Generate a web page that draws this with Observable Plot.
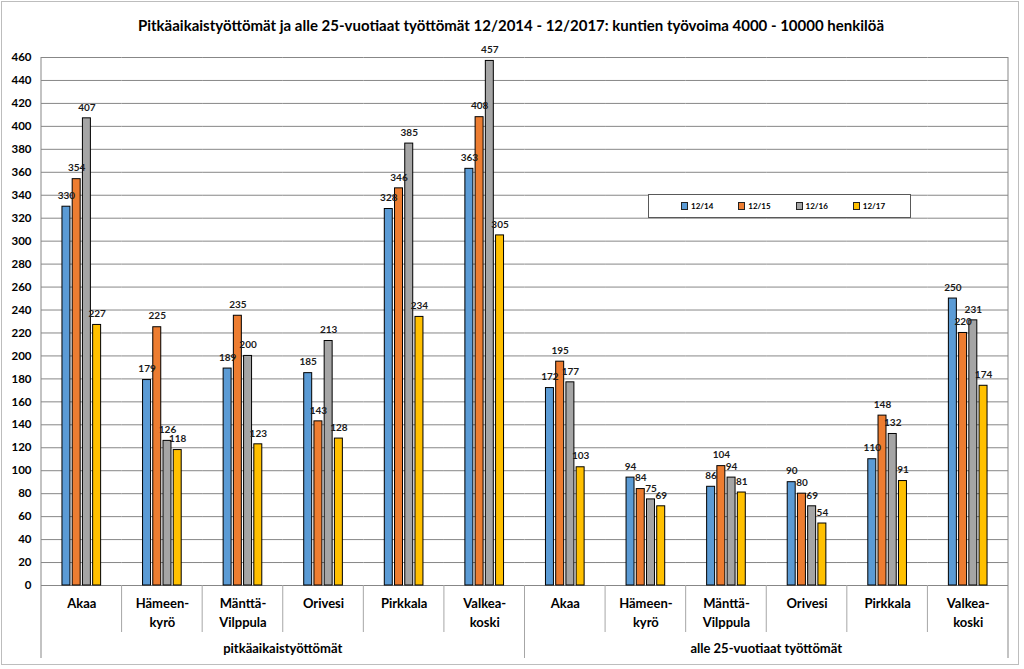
<!DOCTYPE html>
<html>
<head>
<meta charset="utf-8">
<script src="https://cdn.jsdelivr.net/npm/d3@7"></script>
<script src="https://cdn.jsdelivr.net/npm/@observablehq/plot@0.6"></script>
<style>
  html, body { margin: 0; padding: 0; background: #fff; }
  #wrap { position: relative; width: 1024px; height: 669px; overflow: hidden; font-family: Lato, "Open Sans", sans-serif; }
  #border { position: absolute; left: 1px; top: 1px; width: 1018px; height: 664px; border: 1.5px solid #bdbdbd; box-sizing: border-box; }
  #title { position: absolute; left: 0; width: 1022px; top: 16px; text-align: center; font-weight: bold; font-size: 15px; color: #000; }
  #chart { position: absolute; left: 0; top: 0; }
  #legend { position: absolute; left: 648px; top: 194px; width: 263px; height: 24px; box-sizing: border-box; border: 1.5px solid #595959; background: #fff; display: flex; align-items: center; padding-left: 32px; }
  .li { width: 59px; display: flex; align-items: center; font-size: 8px; font-weight: bold; color: #000; }
  .sw { width: 5px; height: 6px; border: 1px solid #222; margin-right: 3px; }
</style>
</head>
<body>
<div id="wrap">
  <div id="border"></div>
  <div id="chart"></div>
  <div id="title">Pitkäaikaistyöttömät ja alle 25-vuotiaat työttömät 12/2014 - 12/2017: kuntien työvoima 4000 - 10000 henkilöä</div>
  <div id="legend"></div>
</div>
<script>
const categories = ["Akaa", "Hämeen-\nkyrö", "Mänttä-\nVilppula", "Orivesi", "Pirkkala", "Valkea-\nkoski"];
const groups = ["pitkäaikaistyöttömät", "alle 25-vuotiaat työttömät"];
const series = ["12/14", "12/15", "12/16", "12/17"];
const colors = ["#5B9BD5", "#ED7D31", "#A5A5A5", "#FFC000"];
// values: first 6 = pitkäaikaistyöttömät, last 6 = alle 25-vuotiaat työttömät
const v12_14 = [330, 179, 189, 185, 328, 363, 172, 94, 86, 90, 110, 250];
const v12_15 = [354, 225, 235, 143, 346, 408, 195, 84, 104, 80, 148, 220];
const v12_16 = [407, 126, 200, 213, 385, 457, 177, 75, 94, 69, 132, 231];
const v12_17 = [227, 118, 123, 128, 234, 305, 103, 69, 81, 54, 91, 174];
const yTicks = d3.range(0, 461, 20);

const seriesValues = [v12_14, v12_15, v12_16, v12_17];
const keys = [];
groups.forEach((g, gi) => categories.forEach((c, ci) => keys.push(gi + "-" + ci)));
const labelOf = k => categories[+k.split("-")[1]];
const rows = [];
keys.forEach((k, i) => series.forEach((s, si) => rows.push({key: k, series: s, value: seriesValues[si][i]})));

const plot = Plot.plot({
  width: 1024,
  height: 669,
  marginLeft: 41,
  marginRight: 16,
  marginTop: 57,
  marginBottom: 84,
  style: {fontFamily: "Lato, 'Open Sans', sans-serif", background: "transparent", color: "#000"},
  fx: {domain: keys, padding: 0, round: false, axis: null, label: null},
  x: {domain: series, paddingInner: 0.22, paddingOuter: 2.05, round: false, axis: null, label: null},
  y: {domain: [0, 460], axis: null, label: null},
  color: {domain: series, range: colors},
  marks: [
    Plot.gridY(yTicks, {stroke: "#878787", strokeOpacity: 1}),
    Plot.barY(rows, {fx: "key", x: "series", y: "value", fill: "series", stroke: "#000", strokeWidth: 1}),
    Plot.text(rows, {fx: "key", x: "series", y: "value", text: d => String(d.value), dy: -11, fontSize: 10, fontWeight: "bold", fill: "#1a1a1a"}),
    Plot.axisY(yTicks, {anchor: "left", label: null, tickSize: 0, tickPadding: 10, fontSize: 11.5, fontWeight: "bold", tickFormat: d => String(d)}),
    Plot.axisFx({anchor: "bottom", label: null, tickSize: 0, tickPadding: 9, fontSize: 13, fontWeight: "bold", lineHeight: 1.45, tickFormat: labelOf, lineAnchor: "top"})
  ]
});
document.getElementById("chart").appendChild(plot);

// category separators and group labels, placed through Plot's own scales
const fx = plot.scale("fx");
const y = plot.scale("y");
const bw = fx.bandwidth;
const svg = d3.select(plot);
const yTop = y.apply(460), yBase = y.apply(0);
const sepShort = yBase + 47, sepLong = yBase + 73;
const bounds = keys.map(k => fx.apply(k)).concat([fx.apply(keys[keys.length - 1]) + bw]);
const gSep = svg.append("g").attr("stroke-width", 1);
bounds.forEach((x, i) => {
  const isGroup = i % categories.length === 0;
  const isOuter = i === 0 || i === bounds.length - 1;
  gSep.append("line")
    .attr("x1", x).attr("x2", x)
    .attr("y1", isOuter ? yTop : yBase)
    .attr("y2", isGroup ? sepLong : sepShort)
    .attr("stroke", isOuter ? "#878787" : "#a6a6a6");
});
groups.forEach((g, gi) => {
  const x0 = bounds[gi * categories.length], x1 = bounds[(gi + 1) * categories.length];
  svg.append("text")
    .attr("x", (x0 + x1) / 2).attr("y", yBase + 68)
    .attr("text-anchor", "middle")
    .attr("font-size", 13).attr("font-weight", "bold").attr("fill", "#000")
    .text(g);
});

// legend
const leg = d3.select("#legend");
series.forEach((s, i) => {
  const it = leg.append("div").attr("class", "li");
  it.append("div").attr("class", "sw").style("background", colors[i]);
  it.append("span").text(s);
});
</script>
</body>
</html>
